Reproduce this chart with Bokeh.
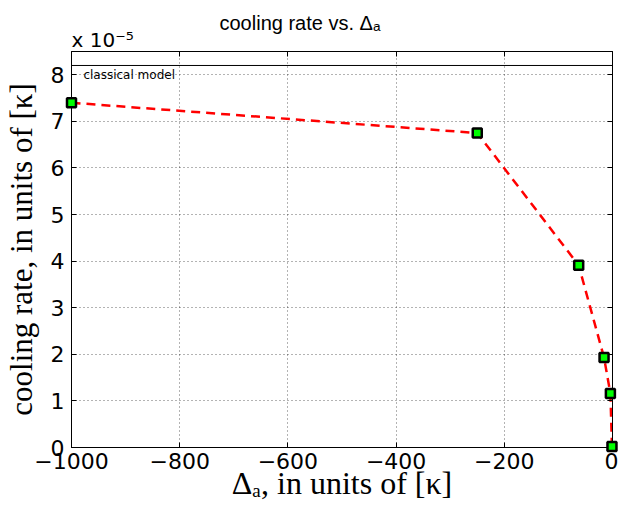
from bokeh.plotting import figure
from bokeh.models import Label, Span, FixedTicker, LinearAxis, Range1d, CustomJSTickFormatter, Title
from bokeh.embed import file_html
from bokeh.resources import INLINE

# detuning Delta_a (units of kappa) and cooling rate (units of kappa, scaled by 1e-5)
detuning = [-1000.0, -250.0, -62.5, -15.625, -3.90625, -0.9765625]
cooling_rate = [7.40, 6.75, 3.91, 1.93, 1.16, 0.02]
classical_rate = 8.20

x_ticks = [-1000, -800, -600, -400, -200, 0]
x_tick_labels = ["\u22121000", "\u2212800", "\u2212600", "\u2212400", "\u2212200", "0"]
y_ticks = [0, 1, 2, 3, 4, 5, 6, 7, 8]
y_tick_labels = ["0", "1", "2", "3", "4", "5", "6", "7", "8"]

SANS = "DejaVu Sans"
TITLE_SANS = "Liberation Sans"
SERIF = "Liberation Serif"

p = figure(width=618, height=508, x_range=Range1d(-1000, 0), y_range=Range1d(0, 8.5),
           title=None, output_backend="svg", toolbar_location=None,
           min_border_left=70, min_border_right=6, min_border_top=51, min_border_bottom=61)
p.background_fill_color = "white"
p.border_fill_color = "white"
p.outline_line_color = "black"
p.outline_line_width = 1


def style_axis(ax, ticks, labels, show_labels=True):
    ax.ticker = FixedTicker(ticks=ticks)
    ax.major_tick_in = 5
    ax.major_tick_out = 0
    ax.minor_tick_in = 0
    ax.minor_tick_out = 0
    ax.axis_line_color = "black"
    ax.major_tick_line_color = "black"
    if show_labels:
        ax.major_label_overrides = dict(zip(ticks, labels))
        ax.major_label_text_font = SANS
        ax.major_label_text_font_size = "22px"
        ax.major_label_text_color = "black"
        ax.major_label_standoff = 7
        ax.axis_label_text_font = SERIF
        ax.axis_label_text_font_style = "normal"
        ax.axis_label_text_color = "black"
    else:
        ax.formatter = CustomJSTickFormatter(code="return ''")
        ax.major_label_text_font_size = "0px"
        ax.major_label_standoff = 0


style_axis(p.xaxis[0], x_ticks, x_tick_labels)
style_axis(p.yaxis[0], y_ticks, y_tick_labels)

p.xaxis[0].axis_label = "\u0394\u2090, in units of [\u03ba]"
p.xaxis[0].axis_label_text_font_size = "32px"
p.xaxis[0].major_label_standoff = 5
p.xaxis[0].axis_label_standoff = -7

p.yaxis[0].axis_label = "cooling rate, in units of [\u03ba]"
p.yaxis[0].axis_label_text_font_size = "31px"
p.yaxis[0].axis_label_standoff = 9

top_axis = LinearAxis()
style_axis(top_axis, x_ticks, x_tick_labels, show_labels=False)
p.add_layout(top_axis, "above")
right_axis = LinearAxis()
style_axis(right_axis, y_ticks, y_tick_labels, show_labels=False)
p.add_layout(right_axis, "right")

# exponent of the y values, then the plot title above it
p.add_layout(Title(text="x 10\u207b\u2075", align="left", offset=0, text_font=SANS,
                   text_font_size="20px", text_font_style="normal", text_color="black",
                   standoff=0), "above")
p.add_layout(Title(text="cooling rate vs. \u0394\u2090", align="left", offset=148, text_font=TITLE_SANS,
                   text_font_size="20px", text_font_style="normal", text_color="black",
                   standoff=-16), "above")

for g, t in ((p.xgrid[0], x_ticks), (p.ygrid[0], y_ticks)):
    g.ticker = FixedTicker(ticks=t)
    g.grid_line_color = "black"
    g.grid_line_alpha = 0.6
    g.grid_line_dash = "1 3"
    g.grid_line_width = 1

# classical-model reference level
p.add_layout(Span(location=classical_rate, dimension="width", line_color="black", line_width=1))
p.add_layout(Label(x=-978, y=classical_rate - 0.2, text="classical model", text_font=SANS,
                   text_font_size="12px", text_color="black", text_baseline="middle"))

# computed cooling rates
p.line(detuning, cooling_rate, line_color="red", line_width=2.5, line_dash="9 6")
p.scatter(detuning, cooling_rate, marker="square", size=9, fill_color="#00ff00",
          line_color="black", line_width=2.5, level="overlay")

open("out.html", "w").write(file_html(p, INLINE))
